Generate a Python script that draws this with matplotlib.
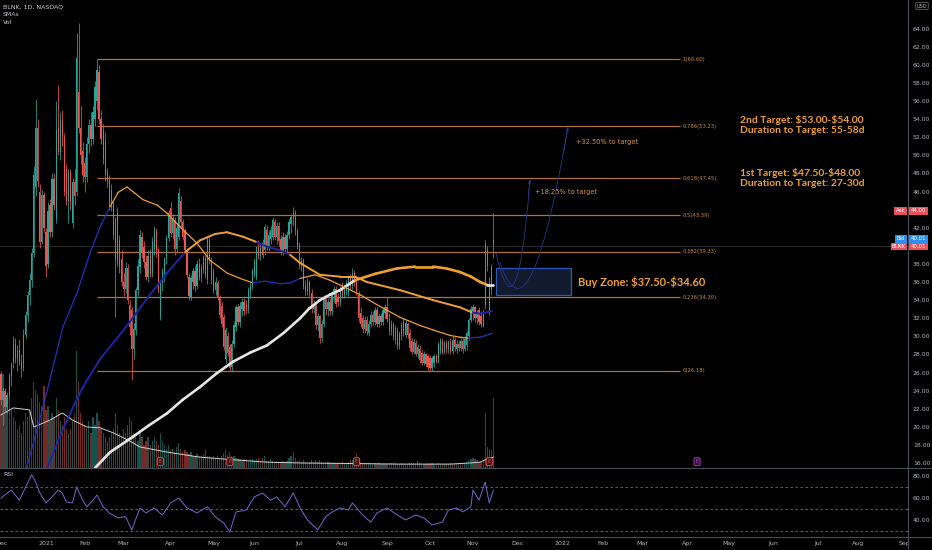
import numpy as np
import matplotlib
matplotlib.use("Agg")
import matplotlib.pyplot as plt
from matplotlib.patches import Rectangle, PathPatch
from matplotlib.path import Path
from matplotlib.lines import Line2D
from matplotlib.collections import LineCollection

# ---------------- data (BLNK daily, Dec 2020 - Nov 2021) ----------------
opens = [
    25.8, 23.0, 24.0, 22.2, 23.5, 25.6, 27.0, 29.2, 27.6, 28.5, 27.2, 26.5, 30.2, 32.4, 34.6, 36.2, 39.2, 46.5, 53.0, 46.0, 40.4, 45.6,
    41.5, 38.0, 44.5, 41.5, 47.4, 43.0, 53.0, 50.4, 53.8, 52.0, 48.5, 45.0, 48.0, 42.5, 47.0, 46.0, 57.0, 53.0, 50.5,
    49.2, 47.6, 51.2, 53.4, 51.8, 54.0, 56.0, 59.2, 54.0, 52.8, 51.5, 47.2, 47.3, 44.4, 44.5, 38.4, 43.6, 40.6, 38.5,
    36.0, 35.2, 37.6, 33.5, 32.9, 28.6, 30.7, 35.1, 37.7, 41.0, 39.9, 38.2, 36.6, 38.9, 37.0, 39.6, 41.5, 39.5, 32.1, 35.9, 36.8, 38.5, 40.9,
    44.2, 41.4, 42.9, 39.6, 41.0, 45.0, 42.6, 41.7, 39.5, 36.6, 34.3, 36.0, 37.2, 35.6, 38.0, 36.6, 37.4, 38.6, 36.2, 40.6, 38.4,
    37.0, 35.1, 35.9, 34.3, 33.4, 32.1, 27.5, 30.0, 28.8, 26.6, 29.2, 31.0, 33.2, 31.6, 33.0, 33.8, 33.6, 33.0, 35.0, 35.6,
    37.0, 36.6, 39.9, 38.9, 40.3, 39.5, 41.8, 39.8, 40.8, 41.0, 42.6, 41.0, 42.2, 40.7, 39.4, 41.0, 39.6, 41.2, 42.4, 43.0, 43.6, 41.6,
    40.0, 37.8, 38.4, 35.6, 35.0, 36.0, 34.8, 33.0, 33.6, 31.2, 32.2, 29.8, 31.4, 34.2, 33.0, 33.8, 32.8, 34.6, 35.2, 34.3, 33.8,
    35.6, 34.6, 35.0, 34.8, 36.5, 35.6, 37.0, 36.0, 34.6, 32.6, 32.0, 30.8, 31.8, 30.4, 31.4, 32.4, 31.6, 32.9, 31.4, 32.2, 31.6, 32.6,
    33.2, 31.9, 30.6, 31.4, 29.6, 30.7, 28.9, 30.0, 31.6, 30.2, 31.4, 30.4, 29.5, 28.3, 29.3, 28.1, 28.6, 28.2, 27.1, 28.0, 27.8,
    27.6, 26.5, 27.0, 27.8, 27.2, 28.4, 29.4, 28.3, 29.3, 28.6, 29.4, 28.4, 29.6, 28.6, 29.2, 28.7, 29.5, 28.6, 29.0, 30.0, 31.8,
    32.8, 33.2, 32.0, 32.9, 32.2, 32.6, 33.5, 39.5, 35.4, 35.1, 40.6,
]
highs = [
    26.2, 24.4, 24.3, 23.8, 26.0, 27.2, 30.0, 29.8, 29.0, 29.6, 28.0, 30.8, 32.8, 35.0, 37.0, 39.8, 48.8, 56.2, 54.0, 46.8, 46.2, 46.0,
    42.0, 44.8, 45.2, 48.0, 48.0, 56.0, 57.8, 54.8, 55.0, 52.5, 49.0, 48.5, 48.5, 47.5, 48.5, 63.5, 64.6, 55.5, 51.5,
    49.8, 52.0, 54.0, 54.8, 55.5, 58.2, 60.6, 60.0, 55.0, 53.5, 52.6, 48.6, 47.8, 46.8, 45.0, 43.2, 44.3, 41.2, 39.5,
    37.0, 38.2, 38.0, 34.0, 33.2, 31.5, 35.5, 38.5, 41.8, 41.5, 40.5, 39.0, 39.5, 39.6, 41.0, 42.2, 42.0, 39.9, 36.2, 37.5, 38.8, 41.2, 44.0,
    44.8, 43.5, 43.2, 42.5, 46.4, 45.5, 43.0, 42.0, 39.8, 37.0, 36.8, 37.6, 37.8, 38.4, 38.6, 38.0, 39.0, 39.0, 41.0, 41.0, 38.8,
    37.5, 36.5, 36.2, 34.6, 33.8, 32.5, 31.0, 30.5, 29.2, 29.6, 31.6, 33.5, 33.6, 33.8, 34.2, 34.2, 34.0, 35.4, 36.0, 37.6,
    38.6, 40.0, 40.6, 40.2, 40.8, 42.4, 42.2, 41.6, 42.2, 43.2, 43.0, 42.6, 42.6, 41.2, 41.5, 41.3, 41.6, 43.0, 43.5, 44.3, 44.0, 42.0,
    40.4, 38.8, 38.6, 36.2, 36.4, 36.2, 35.2, 34.0, 33.8, 32.6, 32.4, 31.8, 34.6, 34.6, 34.2, 34.2, 35.0, 35.6, 35.6, 34.8, 35.6,
    36.0, 35.8, 36.2, 36.8, 36.9, 37.5, 37.3, 36.4, 35.0, 33.2, 32.4, 32.2, 32.2, 31.8, 32.8, 32.8, 33.2, 33.2, 32.6, 32.6, 33.2, 33.6,
    34.3, 32.6, 31.8, 31.6, 31.2, 31.0, 30.6, 31.6, 32.0, 31.8, 31.6, 30.8, 29.8, 29.8, 29.6, 29.2, 29.0, 28.5, 28.4, 28.2, 28.0,
    27.9, 27.8, 28.0, 28.0, 29.4, 29.8, 29.8, 29.6, 29.6, 29.6, 29.8, 30.0, 29.9, 29.6, 29.6, 29.8, 29.8, 30.0, 30.6, 32.0, 33.4,
    33.6, 33.4, 32.9, 33.2, 32.8, 33.0, 40.6, 40.0, 36.5, 38.0, 43.6,
]
lows = [
    22.4, 20.2, 21.6, 21.5, 23.2, 24.5, 26.5, 27.0, 26.2, 26.8, 25.5, 26.2, 29.8, 31.6, 33.5, 35.5, 38.8, 45.5, 46.5, 39.8, 40.2, 41.5,
    36.5, 37.6, 41.0, 41.0, 44.0, 42.5, 50.0, 49.5, 51.0, 45.5, 44.5, 42.5, 44.0, 42.0, 44.5, 45.5, 52.5, 49.0, 47.0,
    46.0, 47.0, 50.2, 51.0, 51.2, 53.2, 55.0, 53.5, 51.2, 49.0, 47.2, 46.5, 44.0, 43.8, 40.8, 32.1, 37.8, 37.0, 35.6,
    34.5, 34.8, 33.6, 30.2, 25.2, 27.5, 30.2, 34.5, 37.0, 38.6, 37.5, 36.2, 36.0, 36.5, 36.6, 39.0, 38.8, 34.8, 31.8, 35.0, 36.0, 38.0, 40.5,
    41.0, 40.8, 39.0, 39.2, 40.6, 42.0, 40.6, 39.2, 36.4, 34.0, 34.0, 35.2, 35.0, 35.2, 36.2, 36.0, 37.0, 36.4, 35.8, 38.0, 35.8,
    34.8, 34.6, 34.0, 32.0, 31.0, 28.5, 27.0, 27.8, 26.2, 26.18, 28.8, 30.6, 31.2, 31.0, 32.2, 32.4, 32.6, 32.6, 34.2, 35.2,
    36.6, 36.2, 38.5, 38.4, 38.6, 39.0, 39.5, 39.4, 40.2, 40.6, 40.6, 40.2, 40.0, 39.0, 39.0, 39.3, 39.2, 40.8, 41.4, 42.2, 41.2, 39.6,
    37.4, 37.2, 35.2, 34.6, 34.6, 34.4, 32.6, 32.6, 30.8, 30.6, 29.3, 29.4, 31.0, 32.4, 32.2, 32.4, 32.4, 33.8, 33.2, 33.4, 33.4,
    34.2, 34.2, 34.6, 34.4, 35.2, 35.2, 35.6, 34.6, 31.6, 31.0, 30.4, 30.4, 30.2, 30.0, 31.0, 31.2, 31.2, 31.0, 31.0, 31.2, 31.2, 32.0,
    31.6, 30.2, 30.2, 29.6, 29.2, 28.6, 28.6, 29.6, 30.0, 29.8, 29.8, 28.4, 28.0, 28.0, 27.8, 27.6, 27.0, 26.8, 26.8, 26.6, 26.3,
    26.2, 26.2, 26.6, 27.0, 27.0, 28.0, 28.0, 28.0, 28.2, 28.2, 28.0, 28.0, 28.4, 28.2, 28.4, 28.4, 28.2, 28.4, 28.5, 29.6, 31.6,
    31.8, 31.6, 31.4, 31.2, 31.0, 31.0, 33.0, 37.2, 32.3, 34.6, 38.6,
]
closes = [
    23.0, 24.0, 22.2, 23.5, 25.6, 26.8, 29.2, 27.6, 28.5, 27.2, 26.4, 30.2, 32.4, 34.6, 36.2, 39.2, 47.8, 53.0, 47.2, 40.4, 45.6, 42.0,
    37.8, 43.8, 41.5, 47.4, 44.5, 52.8, 50.4, 53.8, 52.0, 46.0, 45.0, 48.0, 44.8, 47.0, 45.5, 60.8, 53.0, 50.0, 47.8,
    47.6, 51.2, 53.4, 51.8, 54.8, 57.6, 59.4, 54.0, 51.8, 49.6, 47.8, 48.2, 44.4, 46.2, 41.2, 42.8, 38.2, 37.7, 36.0,
    35.2, 37.6, 34.0, 31.0, 28.6, 30.8, 35.1, 37.8, 41.2, 39.2, 38.2, 36.6, 38.9, 37.0, 40.4, 41.7, 39.5, 35.1, 35.9, 37.2, 38.5, 40.9, 43.6,
    41.4, 42.9, 39.6, 42.0, 45.8, 42.6, 41.0, 39.5, 36.8, 34.4, 36.4, 37.2, 35.6, 38.0, 36.6, 37.6, 38.6, 36.8, 40.6, 38.4, 36.2,
    35.1, 36.0, 34.3, 32.4, 31.4, 28.8, 30.7, 28.2, 26.5, 29.2, 31.2, 33.2, 31.6, 33.4, 33.8, 32.8, 33.0, 35.1, 35.6, 37.2,
    38.2, 39.9, 38.9, 39.8, 39.0, 42.1, 40.0, 41.2, 41.8, 42.9, 41.0, 42.2, 40.5, 39.4, 41.0, 39.6, 41.2, 42.6, 43.2, 43.6, 41.6, 40.0,
    37.8, 38.4, 35.6, 35.0, 36.0, 34.8, 33.0, 33.6, 31.2, 32.2, 29.8, 31.4, 34.2, 33.0, 33.8, 32.8, 34.6, 35.2, 33.6, 33.8, 35.2,
    34.6, 35.4, 35.9, 36.5, 35.6, 37.0, 36.0, 35.0, 32.0, 31.4, 30.8, 31.8, 30.6, 31.4, 32.4, 31.6, 32.9, 31.4, 32.2, 31.6, 32.9, 33.2,
    31.9, 30.6, 31.4, 30.0, 30.9, 28.9, 30.3, 31.2, 30.4, 31.5, 30.1, 28.7, 28.3, 29.4, 28.1, 28.8, 27.4, 27.1, 28.0, 26.9, 26.6,
    26.5, 27.6, 27.8, 27.2, 29.2, 29.6, 28.3, 29.3, 28.6, 29.4, 28.4, 29.6, 28.8, 29.2, 28.7, 29.5, 28.6, 29.7, 30.4, 31.8, 33.0,
    33.2, 32.0, 32.6, 31.6, 31.4, 31.2, 40.2, 37.8, 32.6, 37.7, 40.0,
]
volumes = [  # millions
    22, 24, 18, 16, 20, 15, 13, 12, 10, 11, 9, 12, 14, 13, 15, 18, 22, 20, 19, 17, 16, 21,
    15, 16, 12, 14, 13, 18, 15, 12, 11, 13, 10, 9, 10, 12, 14, 30, 22, 14, 12,
    11, 10, 12, 9, 13, 11, 14, 12, 10, 9, 8, 7, 8, 9, 10, 14, 11, 9, 8,
    10, 9, 11, 13, 12, 9, 8, 7, 9, 8, 6, 7, 8, 6, 7, 8, 7, 6, 9, 7, 6, 5, 6,
    4.5, 5, 4, 5.5, 6.5, 5, 4, 4.5, 4, 3.5, 4, 3, 3, 3.5, 3, 3, 3.5, 4.5, 3, 3, 2.8,
    3, 2.6, 3, 2.6, 3, 3.8, 4.5, 3.4, 4, 3.2, 3, 2.6, 2.2, 2.2, 1.9, 2.2, 2.2, 1.9, 2.2, 2.2,
    2, 2.2, 2.6, 1.9, 2.6, 3.2, 1.9, 1.9, 2.2, 1.9, 1.6, 1.9, 1.6, 1.6, 1.9, 1.6, 1.9, 2.6, 3.2, 4, 2.6, 1.9,
    2, 1.6, 2, 1.6, 1.3, 1.6, 2, 1.6, 2, 1.6, 2, 1.6, 1.3, 1.3, 1.6, 1.3, 1.3, 1.2, 1.3, 1.3, 1.4,
    1.6, 1.3, 1.3, 1.6, 2, 2, 2.3, 3.5, 2.4, 1.6, 1.3, 1.3, 1.2, 1.3, 1.2, 1.3, 1.2, 1.0, 1.2, 1.0, 1.0, 1.0,
    1.1, 1.2, 1.3, 1.2, 1.3, 1.0, 1.0, 1.2, 1.0, 1.0, 1.0, 1.2, 1.3, 1.2, 1.0, 1.8, 1.2, 1.0, 1.0, 1.0, 1.0,
    1.0, 1.2, 1.0, 1.0, 1.2, 1.0, 1.0, 0.9, 1.0, 1.0, 1.2, 1.0, 1.0, 1.0, 1.2, 1.3, 1.4, 1.3, 1.6, 2.0, 2.3,
    2.6, 2.3, 2.0, 1.6, 1.6, 1.8, 14, 5.5, 5, 4.5, 18,
]

# moving averages (bar index, value, 1 = price above)
sma50_idx = [12.5, 20.6, 30.3, 37.2, 43.6, 48.5, 53.4, 57.3, 61.7, 65.6, 69.5, 76.4, 81.3, 87.6, 95.9, 102.3, 110.6, 117.0,
             123.3, 129.2, 136.6, 141.5, 146.4, 153.7, 161.0, 168.4, 175.7, 185.5, 195.3, 205.1, 211.5, 219.8, 224.7,
             228.6, 234.5, 240.3]
sma50_vals = [15.45, 22.2, 31.0, 34.8, 39.2, 42.1, 44.3, 45.9, 46.5, 45.8, 45.1, 44.5, 43.6, 42.1, 40.3, 38.4, 37.0, 36.4,
              35.9, 36.1, 35.8, 35.9, 36.4, 36.8, 36.2, 35.4, 34.6, 33.3, 32.1, 31.2, 30.7, 30.1, 29.9, 29.8, 29.9, 30.3]
sma50_up = [1, 1, 1, 1, 1, 1, 0, 0, 0, 0, 0, 0, 0, 0, 0, 0, 0, 0, 1, 1, 1, 1, 0, 0, 0, 0, 0, 0, 0, 0, 0, 0, 0, 1, 1, 1]

sma100_idx = [22.5, 32.3, 40.1, 48.5, 56.8, 63.1, 72.9, 81.3, 90.1, 97.4, 104.7, 110.6, 118.5, 125.3, 130.2, 136.6,
              141.5, 146.4, 156.1, 165.9, 173.3, 179.1, 195.3, 211.5, 224.7, 231.0, 234.5, 240.3]
sma100_vals = [15.45, 20.75, 24.4, 27.5, 29.8, 31.6, 34.6, 37.0, 39.3, 40.6, 41.3, 41.5, 41.0, 40.4, 39.9, 39.5,
               39.0, 38.1, 36.8, 36.6, 36.6, 36.0, 35.1, 34.0, 33.2, 32.6, 32.5, 32.8]
sma100_up = [1, 1, 1, 1, 1, 1, 1, 1, 0, 0, 0, 0, 0, 1, 1, 1, 0, 0, 0, 0, 0, 0, 0, 0, 0, 1, 1, 1]

sma200_idx = [46.0, 53.4, 64.6, 72.0, 81.3, 89.0, 97.4, 105.5, 113.6, 122.0, 130.2, 138.5, 146.4, 151.0, 156.1, 161.0,
              165.9, 173.3, 183.1, 193.8, 202.6, 211.5, 218.0, 224.7, 230.0, 234.5, 237.9, 240.8]
sma200_vals = [15.45, 17.2, 18.9, 20.1, 21.5, 23.0, 24.4, 25.9, 27.2, 28.2, 29.0, 30.4, 32.0, 33.1, 34.0, 34.6,
               35.1, 36.2, 36.9, 37.5, 37.7, 37.7, 37.5, 37.1, 36.6, 36.0, 35.7, 35.7]
sma200_up = [1, 1, 1, 1, 1, 1, 1, 1, 1, 1, 1, 1, 1, 1, 1, 1, 1, 0, 0, 0, 0, 0, 0, 0, 0, 0, 1, 1]

vsma_idx = [0, 6, 14, 16, 24, 30, 35, 42, 48.5, 55, 62, 68, 81, 97, 114, 130, 146, 171, 195, 220, 230, 234.5, 237, 241]
vsma_vals = [13.6, 15.4, 14.9, 10.5, 12.3, 14.1, 12.3, 10.5, 10.3, 9.0, 7.2, 5.4, 4.1, 2.8, 2.1, 1.5, 1.3, 1.15,
             1.0, 1.0, 1.3, 1.5, 2.1, 2.8]

rsi_idx = [0, 5, 9, 13, 15, 17, 19, 22, 25, 28, 30, 32, 35, 37, 40, 42, 45, 47, 50, 53, 57, 61, 64, 68, 71, 75, 79, 83,
           87, 91, 96, 101, 105, 109, 112, 115, 120, 124, 128, 132, 135, 139, 143, 147, 150, 155, 159, 162, 166, 170,
           172, 177, 181, 184, 189, 194, 198, 203, 207, 211, 216, 219, 223, 226, 230, 231, 234, 237, 239, 241]
rsi_vals = [60, 67.3, 58, 73.6, 81, 74.5, 64.5, 55.5, 61, 67.3, 64.5, 56.5, 55.5, 70, 58, 52, 58, 62.7, 52, 46.4,
            42, 43, 31, 50.9, 46.4, 50.9, 44.5, 55.5, 60, 50.9, 46.4, 52, 42.7, 37.3, 29, 47.3, 49, 61, 64.5, 58,
            61, 52, 64.5, 49, 40, 31, 43, 47.3, 50.9, 49, 55.5, 44.5, 38, 46.4, 50.9, 44.5, 40, 44.5, 41.8, 35.5,
            38, 49, 50.9, 47.3, 52, 67.3, 58, 74.5, 55.5, 67]

fib_ratios = [1, 0.786, 0.618, 0.5, 0.382, 0.236, 0]
fib_prices = [60.60, 53.23, 47.45, 43.39, 39.33, 34.30, 26.18]
fib_start, fib_end = 47, 332.4

earn_idx = [78, 112, 174, 239]
earn_future_idx = [340.7]

zone_lo, zone_hi = 34.60, 37.50
zone_x0, zone_x1 = 242.3, 279.0
path1 = [(242.3, 39.2), (248.0, 33.5), (254.0, 33.0), (258.9, 47.3)]
path2 = [(244.2, 38.2), (252.0, 33.0), (262.0, 33.0), (277.5, 53.1)]

month_idx = [0, 22, 41, 60, 83, 104, 124, 146, 167, 189, 210, 231, 252.6, 274.6, 294.6, 314, 336.2, 356.4, 378,
             400, 419.5, 442]
month_labels = ["Dec", "2021", "Feb", "Mar", "Apr", "May", "Jun", "Jul", "Aug", "Sep", "Oct", "Nov", "Dec", "2022",
                "Feb", "Mar", "Apr", "May", "Jun", "Jul", "Aug", "Sep"]
price_ticks = list(range(16, 65, 2))
hidden_ticks = [40, 44]          # covered by the price tags in the original
last_price, ask_price = 40.01, 44.00

# ---------------- drawing ----------------
W, H = 932, 550
PR = 908
fig = plt.figure(figsize=(W / 100, H / 100), dpi=100)
fig.patch.set_facecolor("black")


def fx(px):
    return px / W


def fy(py):
    return 1 - py / H


TEAL, RED = "#26a69a", "#ef5350"
AXTXT = "#b2b5be"
SEP = "#4a4d55"
ORANGE = "#f0a030"
FIB = "#b07432"
FIB_TXT = "#c98a3c"
PATHC = "#27378a"

main_rect = [0, fy(468), fx(PR), 468 / H]
ax_vol = fig.add_axes(main_rect)
ax = fig.add_axes(main_rect, sharex=ax_vol)
ax_rsi = fig.add_axes([0, fy(537), fx(PR), (537 - 468) / H], sharex=ax_vol)
for a in (ax_vol, ax, ax_rsi):
    a.set_facecolor("black")
    for s in a.spines.values():
        s.set_visible(False)
ax.patch.set_alpha(0)

o = np.array(opens, float)
h = np.array(highs, float)
l = np.array(lows, float)
c = np.array(closes, float)
v = np.array(volumes, float)
n = min(len(o), len(h), len(l), len(c), len(v))
o, h, l, c, v = o[:n], h[:n], l[:n], c[:n], v[:n]
h = np.maximum(h, np.maximum(o, c))
l = np.minimum(l, np.minimum(o, c))
idx = np.arange(n)
cols = np.where(c >= o, TEAL, RED)

# volume
ax_vol.bar(idx, v, width=0.62, color=cols, alpha=0.5, linewidth=0)
ax_vol.plot(vsma_idx, vsma_vals, color="#d0d0d0", lw=0.7)

# current price line
ax.axhline(last_price, color="#3c3c3c", lw=0.5, zorder=1)

# fib levels
for r, p in zip(fib_ratios, fib_prices):
    ax.hlines(p, fib_start, fib_end, color=FIB, lw=0.9, zorder=2)
    ax.text(fib_end + 1.0, p, f"{r}({p:.2f})", color=FIB_TXT, fontsize=3.8, va="center", ha="left")

# candles
ax.vlines(idx, l, h, colors=cols, lw=0.55, zorder=4)
ax.bar(idx, np.maximum(np.abs(c - o), 0.08), bottom=np.minimum(o, c), width=0.62, color=cols,
       linewidth=0, zorder=5)


def draw_sma(xs, ys, ups, up_color, lw):
    segs = [[(xs[k], ys[k]), (xs[k + 1], ys[k + 1])] for k in range(len(xs) - 1)]
    cc = [up_color if ups[k] else ORANGE for k in range(len(xs) - 1)]
    ax.add_collection(LineCollection(segs, colors=cc, linewidths=lw, capstyle="round", zorder=6))


draw_sma(sma200_idx, sma200_vals, sma200_up, "#e6e6e6", 1.9)
draw_sma(sma100_idx, sma100_vals, sma100_up, "#1f25a8", 1.4)
draw_sma(sma50_idx, sma50_vals, sma50_up, "#2430c0", 0.9)

# buy zone
ax.add_patch(Rectangle((zone_x0, zone_lo), zone_x1 - zone_x0, zone_hi - zone_lo, fc="#121a2e", ec="#2f56c0",
                       lw=0.9, zorder=7))


def bez(pts):
    codes = [Path.MOVETO, Path.CURVE4, Path.CURVE4, Path.CURVE4]
    ax.add_patch(PathPatch(Path(pts, codes), fc="none", ec=PATHC, lw=0.6, zorder=8))
    t = 0.95
    p0, p1, p2, p3 = [np.array(q) for q in pts]
    pt = (1 - t) ** 3 * p0 + 3 * (1 - t) ** 2 * t * p1 + 3 * (1 - t) * t ** 2 * p2 + t ** 3 * p3
    ax.annotate("", xy=tuple(p3), xytext=tuple(pt),
                arrowprops=dict(arrowstyle="->", color=PATHC, lw=0.6, mutation_scale=5, shrinkA=0, shrinkB=0),
                zorder=8)


bez(path1)
bez(path2)

# annotations
TF = dict(family=["Lato", "DejaVu Sans"], fontweight="bold", color=ORANGE, va="center", ha="left",
          parse_math=False)
ax.text(282.4, 36.0, "Buy Zone: $37.50-$34.60", fontsize=8.0, **TF)
ax.text(361.7, 53.9, "2nd Target: $53.00-$54.00", fontsize=7.4, **TF)
ax.text(361.7, 52.75, "Duration to Target: 55-58d", fontsize=7.4, **TF)
ax.text(361.7, 48.0, "1st Target: $47.50-$48.00", fontsize=7.4, **TF)
ax.text(361.7, 46.85, "Duration to Target: 27-30d", fontsize=7.4, **TF)
ax.text(281.4, 51.5, "+32.50% to target", fontsize=4.8, color="#d8933a", va="center", ha="left")
ax.text(261.4, 45.9, "+18.25% to target", fontsize=4.8, color="#d8933a", va="center", ha="left")

# earnings markers
for e in earn_idx:
    ax.text(e, 16.15, "E", fontsize=3.6, color=RED, ha="center", va="center", zorder=9,
            bbox=dict(boxstyle="round,pad=0.3", fc="#3a1212", ec=RED, lw=0.6))
for e in earn_future_idx:
    ax.text(e, 16.15, "E", fontsize=3.6, color="#c25bd6", ha="center", va="center", zorder=9,
            bbox=dict(boxstyle="round,pad=0.3", fc="#2a0f33", ec="#b040c8", lw=0.6))

# RSI
for lvl in (70, 50, 30):
    ax_rsi.axhline(lvl, color="#6b6e78", lw=0.6, ls=(0, (3, 3)))
ax_rsi.plot(rsi_idx, rsi_vals, color="#7e62d0", lw=0.7)

# limits & ticks
ax.set_xlim(-0.49, 443.95)
ax.set_ylim(15.45, 67.16)
ax_vol.set_ylim(0, 120)
ax_rsi.set_ylim(24.5, 87.3)

ax_vol.set_yticks([])
ax.yaxis.tick_right()
ax.set_yticks(price_ticks)
ax.set_yticklabels(["" if t in hidden_ticks else f"{t:.2f}" for t in price_ticks])
ax.tick_params(axis="y", length=0, pad=3.5, labelsize=4.4, labelcolor=AXTXT)
ax_rsi.yaxis.tick_right()
ax_rsi.set_yticks([40, 60, 80])
ax_rsi.set_yticklabels(["40.00", "60.00", "80.00"])
ax_rsi.tick_params(axis="y", length=0, pad=3.5, labelsize=4.4, labelcolor=AXTXT)
ax_rsi.set_xticks(month_idx)
ax_rsi.set_xticklabels(month_labels)
ax_rsi.tick_params(axis="x", length=0, pad=3.2, labelsize=4.5, labelcolor=AXTXT)
for a in (ax, ax_vol):
    a.tick_params(axis="x", bottom=False, labelbottom=False)

# mask overflow at the lower right corner
fig.add_artist(Rectangle((fx(PR + 0.5), 0), 1, fy(537.5), transform=fig.transFigure, fc="black", ec="none",
                         zorder=5))
# separators
for yy in (468, 537):
    fig.add_artist(Line2D([0, 1], [fy(yy), fy(yy)], transform=fig.transFigure, color=SEP, lw=0.8, zorder=6))
fig.add_artist(Line2D([fx(PR), fx(PR)], [0, 1], transform=fig.transFigure, color=SEP, lw=0.8, zorder=6))

# legend texts
for txt, yy in (("BLNK, 1D, NASDAQ", 7), ("SMAs", 14.5), ("Vol", 22), ("RSI", 475)):
    fig.text(fx(3), fy(yy), txt, fontsize=4.5, color="#c8cbd3", va="center", ha="left")


# price tags on the right axis
def tag(xc, yc, s, fc):
    fig.text(fx(xc), fy(yc), s, fontsize=3.9, color="white", ha="center", va="center", zorder=7,
             bbox=dict(boxstyle="square,pad=0.25", fc=fc, ec="none"))


tag(900.5, 211, "Ask", "#e8505b")
tag(918.5, 211, f"{ask_price:.2f}", "#e8505b")
tag(901, 239, "Bid", "#2a8ff0")
tag(918.5, 239, f"{last_price:.2f}", "#2a8ff0")
tag(899, 246.5, "BLNK", "#e8505b")
tag(918.5, 246.5, f"{last_price:.2f}", "#e8505b")
fig.text(fx(922), fy(6), "USD", fontsize=3.6, color=AXTXT, ha="center", va="center", zorder=7,
         bbox=dict(boxstyle="round,pad=0.2", fc="black", ec="#777777", lw=0.5))

fig.savefig("out.png", dpi=100, facecolor="black")
